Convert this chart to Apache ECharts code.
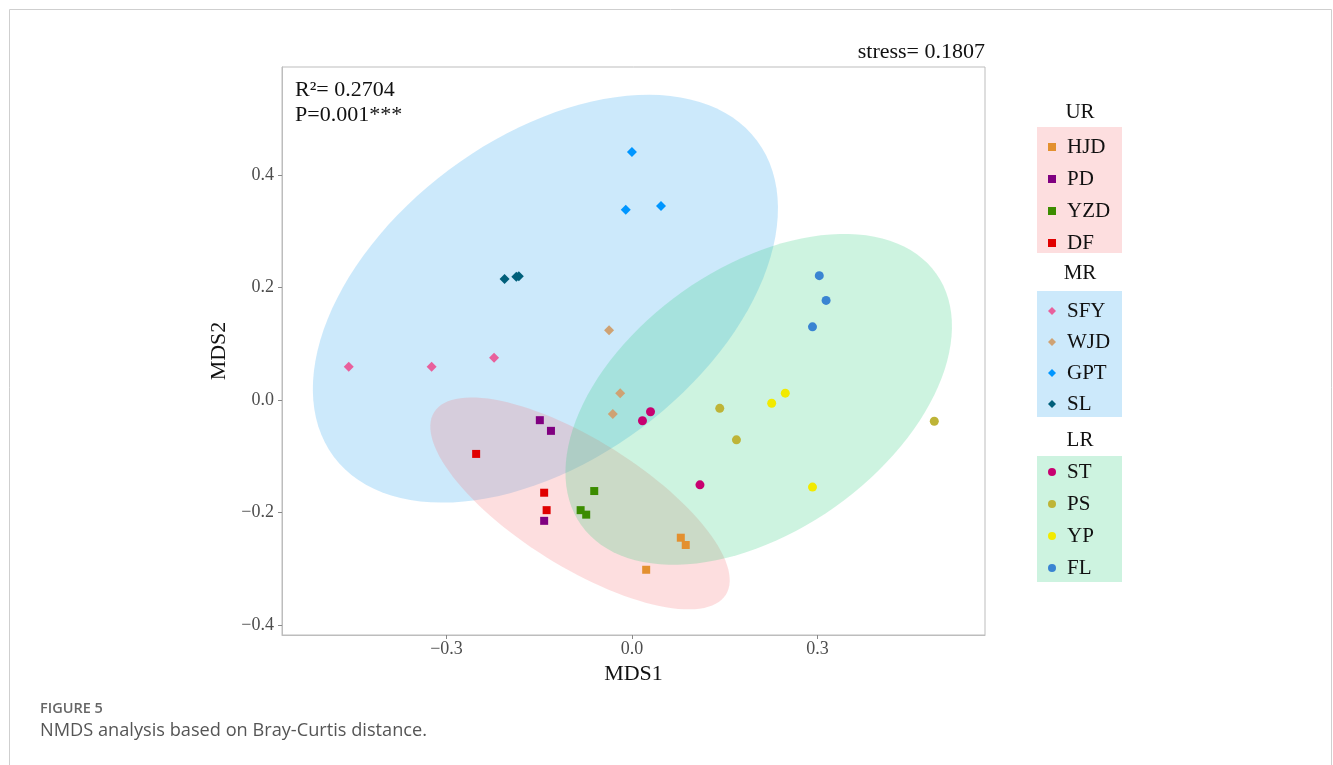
<!DOCTYPE html>
<html>
<head>
<meta charset="utf-8">
<script src="https://cdn.jsdelivr.net/npm/echarts@6/dist/echarts.min.js"></script>
<style>
html,body{margin:0;padding:0;background:#fff;}
#chart{width:1333px;height:765px;}
</style>
</head>
<body>
<div id="chart"></div>
<script>
// sample scores [MDS1, MDS2]
var HJD = [[0.079,-0.245],[0.087,-0.258],[0.023,-0.302]];
var PD  = [[-0.149,-0.036],[-0.131,-0.055],[-0.142,-0.215]];
var YZD = [[-0.061,-0.162],[-0.083,-0.196],[-0.074,-0.204]];
var DF  = [[-0.252,-0.096],[-0.142,-0.165],[-0.138,-0.196]];
var SFY = [[-0.458,0.059],[-0.324,0.059],[-0.223,0.075]];
var WJD = [[-0.037,0.124],[-0.019,0.012],[-0.031,-0.025]];
var GPT = [[0.000,0.441],[-0.010,0.338],[0.047,0.345]];
var SL  = [[-0.206,0.215],[-0.187,0.219],[-0.183,0.220]];
var ST  = [[0.030,-0.021],[0.017,-0.037],[0.110,-0.151]];
var PS  = [[0.142,-0.015],[0.169,-0.071],[0.489,-0.038]];
var YP  = [[0.226,-0.006],[0.248,0.012],[0.292,-0.155]];
var FL  = [[0.303,0.221],[0.314,0.177],[0.292,0.130]];

var groupNames = ['UR','MR','LR'];
var groupSites = [['HJD','PD','YZD','DF'],['SFY','WJD','GPT','SL'],['ST','PS','YP','FL']];
var siteData = {HJD:HJD,PD:PD,YZD:YZD,DF:DF,SFY:SFY,WJD:WJD,GPT:GPT,SL:SL,ST:ST,PS:PS,YP:YP,FL:FL};

// ellipses per group: centre, first and second semi-axis vectors (data units)
var ellCenter = [[-0.084,-0.184],[-0.140,0.180],[0.205,0.001]];
var ellAxisA  = [[0.2359,-0.1623],[0.3423,0.2809],[0.2872,0.2235]];
var ellAxisB  = [[0.0545,0.0957],[-0.1559,0.2293],[-0.1233,0.1913]];

var xTicks = [-0.3, 0, 0.3];
var yTicks = [-0.4, -0.2, 0, 0.2, 0.4];

var siteColor = {HJD:'#E3902F',PD:'#800080',YZD:'#3C8C00',DF:'#E00000',
  SFY:'#E8609C',WJD:'#CFA273',GPT:'#0096FF',SL:'#005F7A',
  ST:'#C80070',PS:'#BEB437',YP:'#F2EA00',FL:'#3A84D2'};
var groupSymbol = ['rect','diamond','circle'];
var groupSize = [8,10,9];
var groupFill = ['rgba(247,117,122,0.24)','rgba(42,163,238,0.24)','rgba(47,205,126,0.24)'];
var serif = '"Liberation Serif","DejaVu Serif",serif';

function fmt(v){ return (v < 0 ? '\u2212' : '') + Math.abs(v).toFixed(1); }

var myChart = echarts.init(document.getElementById('chart'));
var series = [];

// draw order: MR, UR, LR
[1,0,2].forEach(function(g){
  var c = ellCenter[g], a = ellAxisA[g], b = ellAxisB[g];
  series.push({
    type:'custom', name:groupNames[g]+'_ell', silent:true, z:1,
    data:[[c[0],c[1],a[0],a[1],b[0],b[1]]],
    renderItem:function(params, api){
      var pts = [];
      for(var i=0;i<=120;i++){
        var t = Math.PI*2*i/120;
        pts.push(api.coord([
          api.value(0)+api.value(2)*Math.cos(t)+api.value(4)*Math.sin(t),
          api.value(1)+api.value(3)*Math.cos(t)+api.value(5)*Math.sin(t)
        ]));
      }
      return {type:'polygon', shape:{points:pts}, style:{fill:groupFill[g]}};
    }
  });
});

groupSites.forEach(function(sites, g){
  sites.forEach(function(s){
    series.push({
      type:'scatter', name:s, z:5,
      symbol:groupSymbol[g], symbolSize:groupSize[g],
      itemStyle:{color:siteColor[s], opacity:1},
      data:siteData[s]
    });
  });
});

var legendTops = [131, 295, 456];
var legendGaps = [10, 9, 10];
var legends = groupSites.map(function(sites, g){
  return {
    data:sites, orient:'vertical', left:1043, top:legendTops[g],
    itemWidth:8, itemHeight:8, itemGap:legendGaps[g], selectedMode:false,
    textStyle:{fontFamily:serif, fontSize:21, lineHeight:22, color:'#111', padding:[0,0,0,6]}
  };
});

var boxTops = [127, 291, 456];
var titleY = [112, 273, 440];
var graphics = [
  {type:'rect', shape:{x:9.5,y:9.5,width:1322,height:800}, style:{fill:'none',stroke:'#cfcfcf',lineWidth:1}, z:-10}
];
groupNames.forEach(function(n, g){
  graphics.push({type:'rect', shape:{x:1037,y:boxTops[g],width:85,height:126}, style:{fill:groupFill[g]}, z:-5});
  graphics.push({type:'text', x:1080, y:titleY[g], style:{text:n, font:'21px '+serif, fill:'#111', textAlign:'center', textVerticalAlign:'middle'}});
});
graphics.push({type:'text', x:985, y:52, style:{text:'stress= 0.1807', font:'22px '+serif, fill:'#111', textAlign:'right', textVerticalAlign:'middle'}});
graphics.push({type:'text', x:295, y:90, style:{text:'R\u00B2= 0.2704', font:'22px '+serif, fill:'#111', textVerticalAlign:'middle'}, z:10});
graphics.push({type:'text', x:295, y:115, style:{text:'P=0.001***', font:'22px '+serif, fill:'#111', textVerticalAlign:'middle'}, z:10});
graphics.push({type:'text', x:40, y:709, style:{text:'FIGURE 5', font:'600 14.5px "Open Sans",sans-serif', fill:'#666', textVerticalAlign:'middle'}});
graphics.push({type:'text', x:40, y:731, style:{text:'NMDS analysis based on Bray-Curtis distance.', font:'18.2px "Open Sans",sans-serif', fill:'#555', textVerticalAlign:'middle'}});

var option = {
  backgroundColor:'#fff',
  animation:false,
  grid:{left:282, top:67, right:348, bottom:130, show:true, borderColor:'#bdbdbd', borderWidth:1, backgroundColor:'transparent'},
  xAxis:{
    type:'value', min:-0.566, max:0.571,
    name:'MDS1', nameLocation:'middle', nameGap:21,
    nameTextStyle:{fontFamily:serif, fontSize:22, color:'#111'},
    axisLine:{show:true, onZero:false, lineStyle:{color:'#bdbdbd'}},
    axisTick:{show:true, inside:false, length:4, customValues:xTicks, lineStyle:{color:'#888'}},
    axisLabel:{customValues:xTicks, formatter:fmt, margin:5, fontFamily:serif, fontSize:18, color:'#4d4d4d'},
    splitLine:{show:false}
  },
  yAxis:{
    type:'value', min:-0.418, max:0.592,
    name:'MDS2', nameLocation:'middle', nameGap:39,
    nameTextStyle:{fontFamily:serif, fontSize:22, color:'#111'},
    axisLine:{show:true, onZero:false, lineStyle:{color:'#bdbdbd'}},
    axisTick:{show:true, inside:false, length:4, customValues:yTicks, lineStyle:{color:'#888'}},
    axisLabel:{customValues:yTicks, formatter:fmt, margin:8, fontFamily:serif, fontSize:18, color:'#4d4d4d'},
    splitLine:{show:false}
  },
  legend:legends,
  graphic:graphics,
  series:series
};
myChart.setOption(option);
</script>
</body>
</html>
